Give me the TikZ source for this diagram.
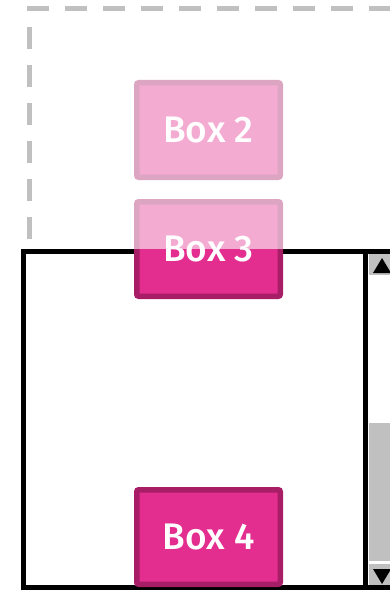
\documentclass[tikz,border=0pt]{standalone}
\usepackage{fontspec}
\setmainfont{Fira Sans Medium}
\usetikzlibrary{positioning}
\definecolor{boxfill}{HTML}{E32D8F}
\definecolor{boxline}{HTML}{A81E66}
\definecolor{bargray}{HTML}{C0C0C0}
\tikzset{
  box/.style={draw=boxline, fill=boxfill, line width=5.5pt, rounded corners=2pt,
    minimum width=143.5pt, minimum height=94.5pt, inner sep=0pt,
    text=white, font=\fontsize{37}{37}\selectfont},
  viewport/.style={draw=black, line width=5pt},
  scrollpart/.style={fill=bargray},
  outside/.style={fill=white, opacity=0.6},
  dashframe/.style={draw=bargray, line width=5pt, dash pattern=on 22pt off 16pt, dash phase=26pt}
}

\begin{document}
\begin{tikzpicture}[x=1pt, y=-1pt]
      \useasboundingbox (0,0) rectangle (390,591);

      % scroll viewport
      \draw[viewport] (400,251) -- (23,251) -- (23,587) -- (400,587);
      \draw[viewport] (365,251) -- (365,587);

      % boxes
      \node[box] (box2) at (208.5,130) {Box 2};
      \node[box] (box3) at (208.5,249) {Box 3};
      \node[box] (box4) at (208.5,537) {Box 4};

      % content outside the viewport is faded
      \fill[outside] (0,0) rectangle (390,249);
      \draw[dashframe] (29,251) -- (29,9) -- (400,9);

      % scrollbar
      \fill[scrollpart] (369,254) rectangle (395,275);
      \fill[black] (373,273) -- (382,258) -- (391,273) -- cycle;
      \fill[scrollpart] (369,423) rectangle (395,561);
      \fill[scrollpart] (369,564) rectangle (395,585);
      \fill[black] (373,569) -- (382,584) -- (391,569) -- cycle;
\end{tikzpicture}
\end{document}
